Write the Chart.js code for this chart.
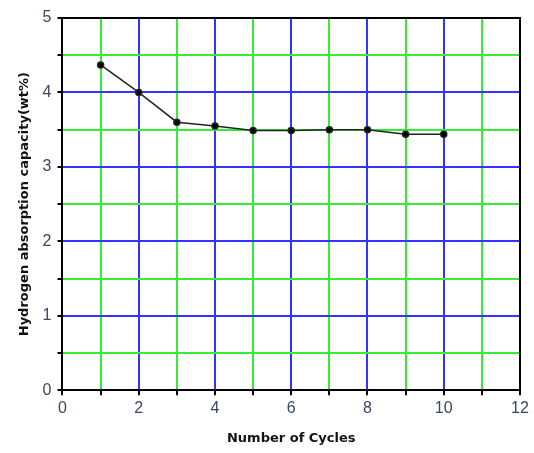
<!DOCTYPE html>
<html>
<head>
<meta charset="utf-8">
<script src="https://cdn.jsdelivr.net/npm/chart.js@4"></script>
<style>
  html, body { margin: 0; padding: 0; background: #fff; }
  #wrap { width: 534px; height: 453px; }
</style>
</head>
<body>
<div id="wrap"><canvas id="myChart"></canvas></div>
<script>
const cycles = [1, 2, 3, 4, 5, 6, 7, 8, 9, 10]
const capacity = [4.37, 4.0, 3.6, 3.55, 3.49, 3.49, 3.5, 3.5, 3.44, 3.44]

const green = '#33ee33'
const blue = '#3333ff'

const ctx = document.getElementById('myChart').getContext('2d')

const data = {
  datasets: [{
    data: cycles.map((c, i) => ({ x: c, y: capacity[i] })),
    borderColor: '#222',
    backgroundColor: '#000',
    borderWidth: 1.5,
    pointRadius: 3,
    showLine: true
  }]
}

const tickFont = { family: 'Liberation Sans', size: 16 }
const titleFont = { family: 'DejaVu Sans', size: 13, weight: 'bold' }

const config = {
  type: 'scatter',
  data,
  options: {
    responsive: true,
    maintainAspectRatio: false,
    animation: false,
    layout: { padding: { top: 10, right: 6, left: 13, bottom: 3 } },
    plugins: { legend: { display: false }, tooltip: { enabled: false } },
    scales: {
      x: {
        type: 'linear',
        min: 0,
        max: 12,
        ticks: {
          stepSize: 1,
          color: '#3b4660',
          font: tickFont,
          padding: 4,
          callback: v => v % 2 === 0 ? v : ''
        },
        grid: {
          lineWidth: 2,
          color: c => c.tick.value % 2 === 0 ? blue : green,
          tickColor: '#000',
          tickLength: 5
        },
        border: { color: '#000', width: 2 },
        title: {
          display: true,
          text: 'Number of Cycles',
          font: titleFont,
          color: '#111',
          padding: { top: 8 }
        }
      },
      x2: {
        type: 'linear',
        position: 'top',
        min: 0,
        max: 12,
        ticks: { display: false },
        grid: { display: false },
        border: { color: '#000', width: 2 }
      },
      y: {
        min: 0,
        max: 5,
        ticks: {
          stepSize: 0.5,
          color: '#3b4660',
          font: tickFont,
          padding: 6,
          callback: v => Number.isInteger(v) ? v : ''
        },
        grid: {
          lineWidth: 2,
          color: c => Number.isInteger(c.tick.value) ? blue : green,
          tickColor: '#000',
          tickLength: 5
        },
        border: { color: '#000', width: 2 },
        title: {
          display: true,
          text: 'Hydrogen absorption capacity(wt%)',
          font: titleFont,
          color: '#111',
          padding: { bottom: 4 }
        }
      },
      y2: {
        position: 'right',
        min: 0,
        max: 5,
        ticks: { display: false },
        grid: { display: false },
        border: { color: '#000', width: 2 }
      }
    }
  }
}

const myChart = new Chart(ctx, config)
</script>
</body>
</html>
